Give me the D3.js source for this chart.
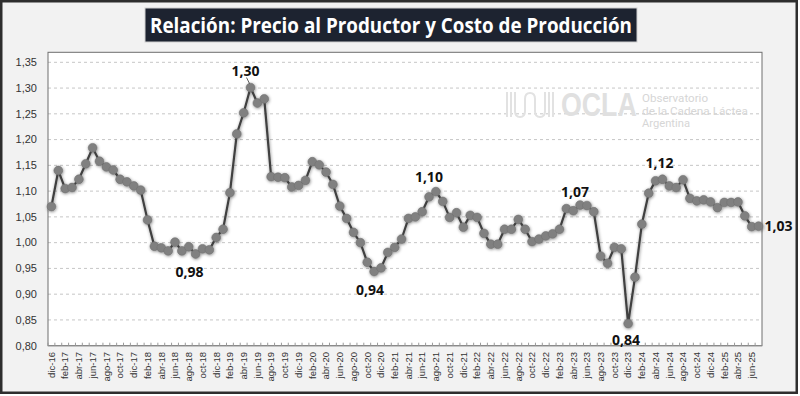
<!DOCTYPE html>
<html><head><meta charset="utf-8">
<script src="https://cdn.jsdelivr.net/npm/d3@7"></script>
<style>html,body{margin:0;padding:0;background:#fff;}svg{display:block;}</style>
</head><body>
<svg id="chart" width="800" height="396"></svg>
<script>
const titleText = "Relación: Precio al Productor y Costo de Producción";
const categories = [
 "dic-16",
 "ene-17","feb-17","mar-17","abr-17","may-17","jun-17","jul-17","ago-17","sep-17","oct-17","nov-17","dic-17",
 "ene-18","feb-18","mar-18","abr-18","may-18","jun-18","jul-18","ago-18","sep-18","oct-18","nov-18","dic-18",
 "ene-19","feb-19","mar-19","abr-19","may-19","jun-19","jul-19","ago-19","sep-19","oct-19","nov-19","dic-19",
 "ene-20","feb-20","mar-20","abr-20","may-20","jun-20","jul-20","ago-20","sep-20","oct-20","nov-20","dic-20",
 "ene-21","feb-21","mar-21","abr-21","may-21","jun-21","jul-21","ago-21","sep-21","oct-21","nov-21","dic-21",
 "ene-22","feb-22","mar-22","abr-22","may-22","jun-22","jul-22","ago-22","sep-22","oct-22","nov-22","dic-22",
 "ene-23","feb-23","mar-23","abr-23","may-23","jun-23","jul-23","ago-23","sep-23","oct-23","nov-23","dic-23",
 "ene-24","feb-24","mar-24","abr-24","may-24","jun-24","jul-24","ago-24","sep-24","oct-24","nov-24","dic-24",
 "ene-25","feb-25","mar-25","abr-25","may-25","jun-25","jul-25"
];
const ratio = [
 1.070,
 1.140,1.105,1.107,1.123,1.153,1.184,1.158,1.147,1.141,1.123,1.118,1.110,
 1.102,1.044,0.993,0.990,0.984,1.001,0.984,0.992,0.978,0.988,0.986,1.010,
 1.026,1.097,1.211,1.252,1.301,1.271,1.279,1.128,1.127,1.126,1.108,1.111,
 1.121,1.157,1.151,1.137,1.113,1.071,1.047,1.020,1.000,0.962,0.944,0.951,
 0.981,0.991,1.007,1.047,1.050,1.060,1.089,1.099,1.080,1.049,1.058,1.030,
 1.053,1.049,1.018,0.997,0.997,1.026,1.026,1.045,1.026,1.002,1.007,1.013,
 1.017,1.026,1.066,1.062,1.073,1.072,1.060,0.974,0.960,0.991,0.988,0.843,
 0.933,1.036,1.096,1.120,1.123,1.110,1.107,1.122,1.086,1.081,1.083,1.079,
 1.068,1.078,1.078,1.079,1.052,1.031,1.032
];
const yTicks = [0.80,0.85,0.90,0.95,1.00,1.05,1.10,1.15,1.20,1.25,1.30,1.35];
// data labels: category, offset from point (styling)
const annotations = [
 {cat:"may-19", dx:-5, dy:-16, leader:true},
 {cat:"sep-18", dx:-6, dy:18},
 {cat:"nov-20", dx:-4, dy:19},
 {cat:"ago-21", dx:-7, dy:-15},
 {cat:"may-23", dx:-5, dy:-13},
 {cat:"dic-23", dx:-2, dy:17},
 {cat:"may-24", dx:-3, dy:-16},
 {cat:"jul-25", dx:20, dy:0}
];

const loc = d3.formatLocale({decimal:",", thousands:".", grouping:[3], currency:["$",""]});
const fmt = loc.format(".2f");

const svg = d3.select("#chart");
const defs = svg.append("defs");
const f = defs.append("filter").attr("id","shadow").attr("x","-20%").attr("y","-20%").attr("width","140%").attr("height","140%");
f.append("feDropShadow").attr("dx",0.5).attr("dy",0.8).attr("stdDeviation",1.4).attr("flood-color","#000").attr("flood-opacity",0.45);

// chart area
svg.append("rect").attr("x",1.25).attr("y",1.25).attr("width",795.5).attr("height",391.5)
  .attr("fill","#f2f2f2").attr("stroke","#2e2e2e").attr("stroke-width",2.5);

// title
svg.append("rect").attr("x",145).attr("y",8).attr("width",492).attr("height",34)
  .attr("fill","#1d2330").attr("stroke","#d0d0d0").attr("stroke-width",1);
svg.append("text").attr("x",391).attr("y",33).attr("text-anchor","middle")
  .attr("font-family","'Open Sans', sans-serif").attr("font-weight","bold").attr("font-size",21)
  .attr("fill","#ffffff").attr("textLength",482).attr("lengthAdjust","spacingAndGlyphs").text(titleText);

const pLeft=48, pRight=762, pTop=52.3;
const x = d3.scaleBand().domain(categories).range([pLeft,pRight]);
const y = d3.scaleLinear().domain([0.80,1.35]).range([345.7,62.3]);
const cx = c => x(c) + x.bandwidth()/2;

// plot area
svg.append("rect").attr("x",pLeft).attr("y",pTop).attr("width",pRight-pLeft).attr("height",y(0.80)-pTop)
  .attr("fill","#ffffff");

// gridlines
svg.append("g").selectAll("line").data(yTicks.filter(t=>t>0.8)).join("line")
  .attr("x1",pLeft).attr("x2",pRight).attr("y1",d=>y(d)).attr("y2",d=>y(d))
  .attr("stroke","#c6c6c6").attr("stroke-width",1).attr("stroke-dasharray","3,3");

// watermark logo
const logo = svg.append("g").attr("fill","none").attr("stroke","#e2e2e2").attr("stroke-width",2);
logo.append("path").attr("d","M507,92V117M511,92V117M515,92V111Q515,117 520,117Q525,117 525,111V99Q525,93 530,93Q535,93 535,99V111Q535,117 540,117Q545,117 545,111V92M549,92V117M553,92V117");
svg.append("text").attr("transform","translate(561,116) scale(0.81,1)").attr("font-family","'Liberation Sans', Arial, sans-serif")
  .attr("font-weight","bold").attr("font-size",33).attr("fill","#e0e0e0").text("OCLA");
const logoTxt = [["Observatorio",102,66],["de la Cadena Láctea",114.5,106],["Argentina",127,48]];
svg.append("g").selectAll("text").data(logoTxt).join("text")
  .attr("x",642).attr("y",d=>d[1]).attr("font-family","Roboto, sans-serif").attr("font-size",10.5)
  .attr("fill","#d6d6d6").attr("textLength",d=>d[2]).attr("lengthAdjust","spacingAndGlyphs").text(d=>d[0]);

// plot border
svg.append("rect").attr("x",pLeft).attr("y",pTop).attr("width",pRight-pLeft).attr("height",y(0.80)-pTop)
  .attr("fill","none").attr("stroke","#6f6f6f").attr("stroke-width",1);

// y axis labels
svg.append("g").selectAll("text").data(yTicks).join("text")
  .attr("x",37).attr("y",d=>y(d)).attr("dy","0.35em").attr("text-anchor","end")
  .attr("font-family","'Liberation Sans', Arial, sans-serif").attr("font-size",11).attr("fill","#333")
  .text(d=>fmt(d));

// x axis line + ticks
svg.append("line").attr("x1",pLeft).attr("x2",pRight).attr("y1",y(0.80)).attr("y2",y(0.80))
  .attr("stroke","#8a8a8a").attr("stroke-width",1.2);
svg.append("g").selectAll("line").data(categories).join("line")
  .attr("x1",d=>x(d)).attr("x2",d=>x(d)).attr("y1",y(0.80)).attr("y2",y(0.80)-3)
  .attr("stroke","#9a9a9a").attr("stroke-width",1);

// x labels (every other month)
const tickLabels = categories.filter((c,i)=>i%2===0);
svg.append("g").selectAll("text").data(tickLabels).join("text")
  .attr("transform",d=>`translate(${cx(d)},352) rotate(-90)`)
  .attr("text-anchor","end").attr("dy","0.35em")
  .attr("font-family","'Liberation Sans', Arial, sans-serif").attr("font-size",9.5).attr("fill","#333")
  .text(d=>d);

// series
const series = svg.append("g").attr("filter","url(#shadow)");
const line = d3.line().x((d,i)=>cx(categories[i])).y(d=>y(d));
series.append("path").datum(ratio).attr("d",line).attr("fill","none")
  .attr("stroke","#3f3f3f").attr("stroke-width",2.2);
series.selectAll("circle").data(ratio).join("circle")
  .attr("cx",(d,i)=>cx(categories[i])).attr("cy",d=>y(d)).attr("r",4.4)
  .attr("fill","#808080").attr("stroke","#707070").attr("stroke-width",0.6);

// data labels
const ann = svg.append("g");
annotations.forEach(a=>{
  const i = categories.indexOf(a.cat);
  const px = cx(a.cat), py = y(ratio[i]);
  if(a.leader){
    ann.append("line").attr("x1",px+a.dx+1).attr("y1",py+a.dy+6).attr("x2",px-1).attr("y2",py-4)
      .attr("stroke","#333").attr("stroke-width",0.8);
  }
  ann.append("text").attr("x",px+a.dx).attr("y",py+a.dy).attr("dy","0.35em").attr("text-anchor","middle")
    .attr("font-family","'Open Sans', sans-serif").attr("font-weight","bold").attr("font-size",14)
    .attr("fill","#111").text(fmt(ratio[i]));
});
</script>
</body></html>
